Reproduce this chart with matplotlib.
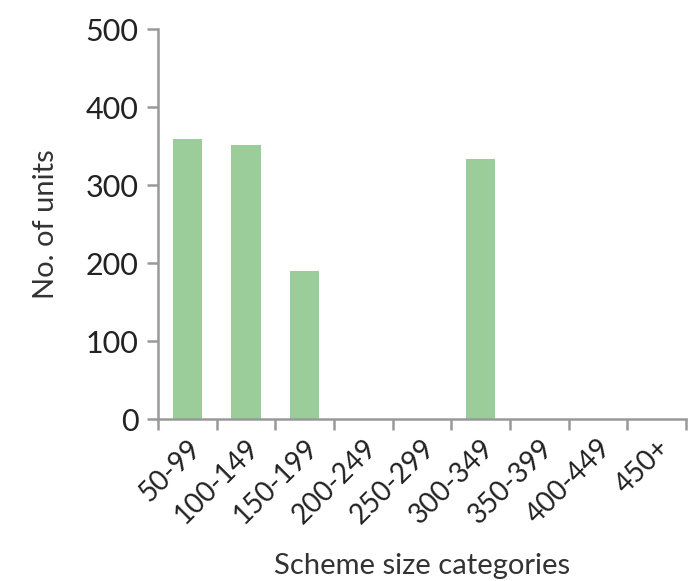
import matplotlib.pyplot as plt
import numpy as np

# scheme size bands and unit counts
categories = ["50-99", "100-149", "150-199", "200-249", "250-299",
              "300-349", "350-399", "400-449", "450+"]
units = [359, 352, 190, 0, 0, 333, 0, 0, 0]

plt.rcParams["font.family"] = ["Lato", "DejaVu Sans"]

fig = plt.figure(figsize=(6.97, 5.81), dpi=100)
ax = fig.add_axes([0.2267, 0.278, 0.7573, 0.672])

x = np.arange(len(categories))
ax.bar(x, units, width=0.5, color="#9bcd9b", edgecolor="none")

ax.set_xlim(-0.5, len(categories) - 0.5)
ax.set_ylim(0, 500)
ax.set_yticks(np.arange(0, 501, 100))

# category ticks sit on the band boundaries
ax.set_xticks(np.arange(-0.5, len(categories), 1.0))
ax.set_xticklabels([])
ax.set_xticks(x, minor=True)
ax.set_xticklabels(categories, minor=True, rotation=45, ha="right",
                   rotation_mode="anchor", fontsize=20, color="#222222")
ax.tick_params(axis="x", which="minor", length=0, pad=11)
ax.tick_params(axis="x", which="major", length=8, width=1.8,
               color="#999999", direction="out")
ax.tick_params(axis="y", length=8, width=1.8, color="#999999",
               labelsize=22, labelcolor="#222222", pad=6)

for side in ["top", "right"]:
    ax.spines[side].set_visible(False)
for side in ["left", "bottom"]:
    ax.spines[side].set_color("#999999")
    ax.spines[side].set_linewidth(1.8)

ax.set_xlabel("Scheme size categories", fontsize=21, va="center",
              color="#333333")
ax.set_ylabel("No. of units", fontsize=21, va="center", color="#333333")
ax.xaxis.set_label_coords(0.5, -0.376)
ax.yaxis.set_label_coords(-0.212, 0.5)

fig.savefig("out.png", dpi=100)
